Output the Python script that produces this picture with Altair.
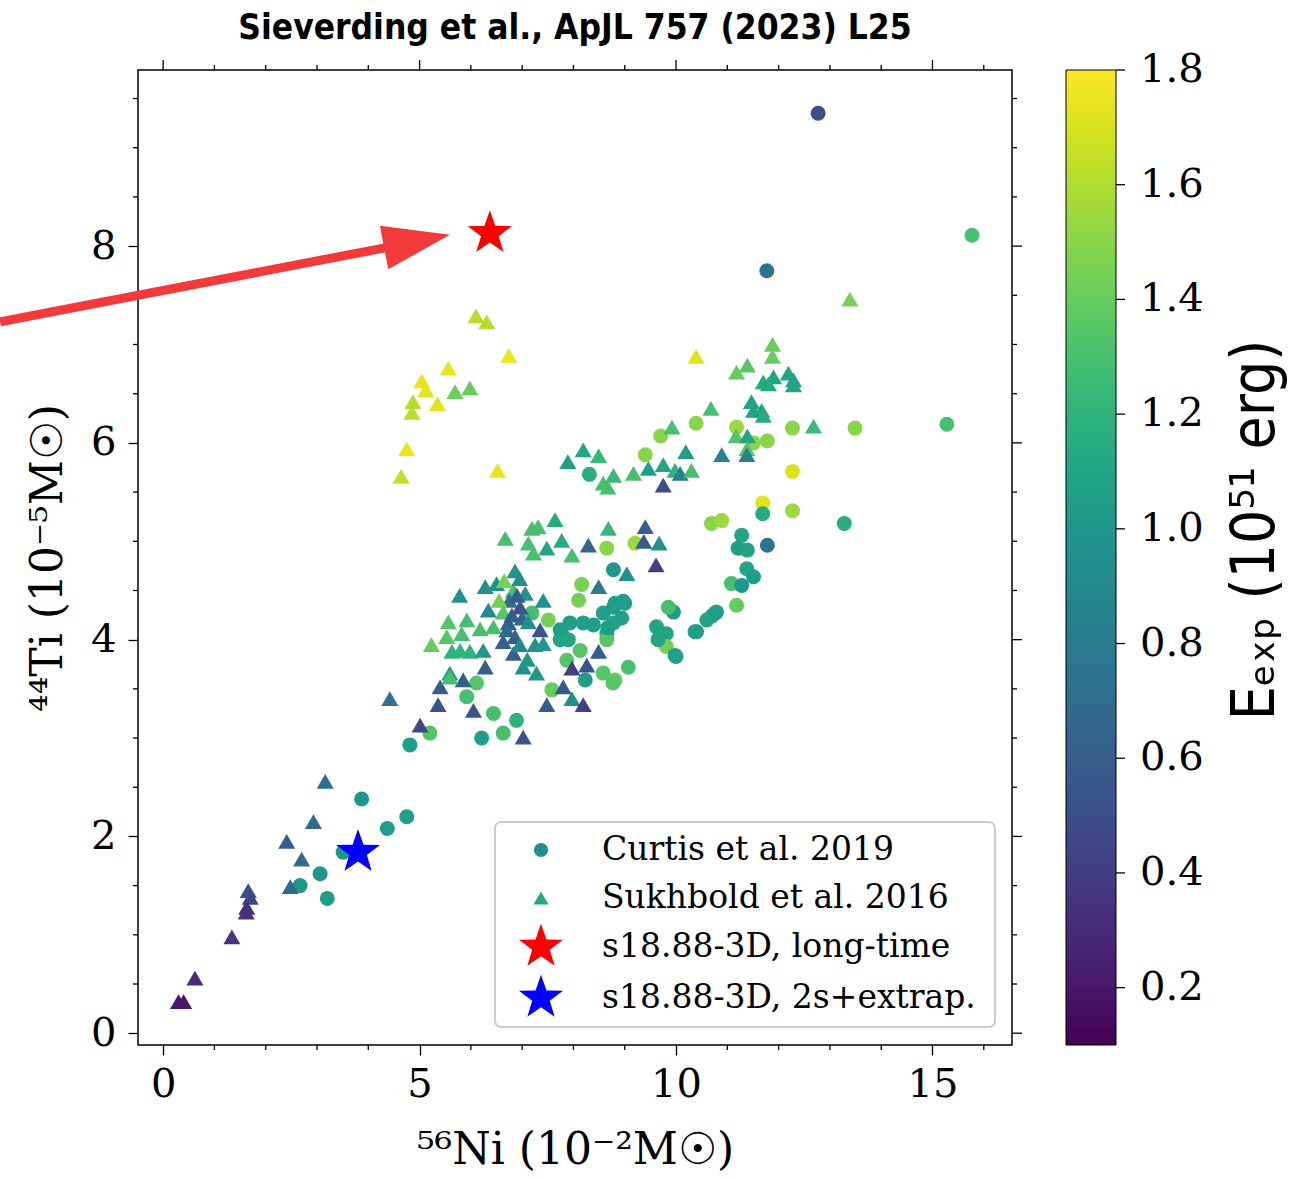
import math
import altair as alt
import pandas as pd

# ---------------- data ----------------
curtis_x = [12.77, 11.77, 15.77, 15.28, 13.49, 13.28, 12.27, 12.27, 11.69, 11.69,
            12.27, 11.78, 11.28, 11.21, 11.39, 11.38, 11.51, 11.08, 11.28, 11.18,
            10.79, 10.70, 10.60, 10.40, 10.69, 10.89, 11.51, 11.78, 11.18, 10.39,
            9.70, 9.40, 8.31, 8.65, 9.20, 8.78, 8.16, 8.10, 7.51, 7.19,
            7.77, 7.93, 8.19, 8.39, 8.58, 8.78, 8.97, 8.78, 8.65, 8.65,
            7.74, 9.62, 9.81, 9.95, 9.85, 9.81, 9.98, 10.37, 8.13, 7.87,
            8.58, 8.81, 9.07, 8.23, 6.11, 5.92, 5.20, 4.81, 6.44, 6.21,
            6.63, 6.89, 7.58, 3.87, 4.75, 4.37, 3.51, 3.06, 2.67, 3.20,
            8.81, 9.00, 8.94, 8.67, 9.65, 10.00, 10.76, 7.90, 7.74, 8.77]
curtis_y = [9.35, 7.75, 8.11, 6.19, 6.15, 5.18, 6.15, 5.71, 5.39, 5.28,
            5.31, 4.96, 5.06, 4.93, 4.91, 4.72, 4.64, 4.57, 4.55, 4.35,
            4.28, 4.24, 4.20, 4.08, 5.18, 5.21, 6.00, 6.02, 6.16, 6.20,
            6.07, 5.88, 5.68, 4.93, 4.98, 4.71, 4.56, 4.40, 4.20, 4.27,
            4.06, 4.17, 4.17, 4.15, 4.27, 4.33, 4.39, 4.17, 4.06, 4.00,
            4.00, 4.13, 4.06, 4.28, 4.33, 3.93, 3.84, 4.08, 3.89, 3.79,
            3.66, 3.59, 3.72, 3.59, 3.56, 3.42, 3.05, 2.93, 3.25, 3.00,
            3.05, 3.18, 3.49, 2.38, 2.20, 2.08, 1.84, 1.62, 1.50, 1.37,
            4.37, 4.37, 4.22, 4.12, 4.00, 3.83, 4.27, 4.00, 4.10, 3.56]
curtis_e = [0.50, 0.75, 1.30, 1.30, 1.50, 1.15, 1.50, 1.70, 1.72, 1.15,
            1.55, 0.75, 1.10, 1.05, 1.10, 1.10, 1.05, 1.30, 1.00, 1.40,
            1.10, 1.10, 1.10, 1.05, 1.50, 1.55, 1.50, 1.50, 1.55, 1.50,
            1.50, 1.50, 1.15, 1.50, 1.55, 1.00, 1.45, 1.45, 1.45, 1.30,
            1.05, 1.05, 1.05, 1.05, 1.05, 1.05, 1.05, 1.10, 1.10, 1.35,
            1.10, 1.10, 1.10, 1.05, 1.30, 1.45, 1.10, 1.05, 1.35, 1.35,
            1.35, 1.40, 1.30, 1.05, 1.35, 1.30, 1.35, 1.05, 1.30, 1.05,
            1.30, 1.20, 1.40, 1.00, 1.05, 1.05, 1.00, 1.00, 1.00, 1.05,
            1.05, 1.05, 1.05, 1.05, 1.10, 1.05, 1.05, 1.10, 1.05, 1.35]

sukh_x = [6.10, 6.31, 6.74, 5.56, 5.04, 5.12, 4.87, 4.85, 5.35, 5.69,
          5.98, 4.75, 4.64, 6.52, 13.39, 10.39, 11.88, 11.88, 11.18, 11.39,
          11.70, 11.90, 12.19, 12.29, 11.80, 12.29, 11.47, 11.67, 11.51, 11.70,
          10.68, 9.92, 12.68, 11.17, 11.39, 11.38, 10.89, 11.38, 10.19, 9.46,
          9.75, 9.98, 10.08, 10.30, 9.75, 7.89, 8.19, 8.49, 8.58, 8.78,
          8.67, 9.17, 7.64, 7.19, 7.31, 6.67, 7.12, 7.22, 7.48, 7.77,
          7.97, 8.29, 8.68, 9.40, 9.37, 9.67, 9.61, 9.04, 8.49, 6.83,
          7.06, 6.96, 6.50, 6.28, 5.78, 6.34, 6.63, 7.41, 7.35, 7.41,
          6.73, 6.86, 6.63, 5.56, 5.92, 6.18, 6.44, 5.53, 5.82, 5.23,
          5.63, 5.79, 5.98, 6.24, 6.83, 7.02, 7.28, 6.28, 5.59, 5.85,
          5.40, 5.36, 6.05, 4.42, 5.01, 7.02, 7.48, 7.80, 7.97, 8.19,
          7.97, 8.26, 8.49, 6.86, 6.95, 6.75, 6.90, 6.80, 7.00, 6.70,
          6.95, 7.12, 6.55, 6.65, 7.10, 7.25, 5.59, 3.16, 2.93, 2.41,
          2.70, 2.48, 1.66, 1.70, 1.63, 1.62, 1.34, 0.62, 0.30, 0.40]
sukh_y = [7.29, 7.23, 6.89, 6.76, 6.63, 6.54, 6.42, 6.31, 6.40, 6.52,
          6.56, 5.94, 5.66, 5.72, 7.46, 6.88, 7.00, 6.88, 6.72, 6.79,
          6.62, 6.67, 6.71, 6.64, 6.60, 6.59, 6.42, 6.33, 6.33, 6.28,
          6.35, 6.16, 6.17, 6.07, 6.07, 5.94, 5.88, 5.88, 5.91, 5.74,
          5.78, 5.72, 5.69, 5.72, 5.57, 5.81, 5.93, 5.87, 5.59, 5.67,
          5.55, 5.69, 5.22, 5.13, 5.15, 5.03, 4.98, 4.88, 4.93, 5.01,
          4.86, 4.96, 5.13, 5.15, 5.00, 4.98, 4.76, 4.67, 4.54, 4.50,
          4.47, 4.33, 4.57, 4.54, 4.45, 4.30, 4.28, 4.40, 4.10, 3.96,
          4.17, 4.03, 3.98, 4.18, 4.20, 4.11, 4.13, 4.03, 4.06, 3.95,
          3.88, 3.89, 3.88, 3.89, 3.86, 3.72, 3.66, 3.72, 3.66, 3.59,
          3.52, 3.34, 3.28, 3.40, 3.13, 3.01, 3.34, 3.52, 3.40, 3.34,
          3.71, 3.74, 3.88, 4.70, 4.62, 4.40, 4.45, 4.25, 4.22, 4.10,
          3.95, 4.18, 4.40, 4.60, 3.80, 3.95, 3.62, 2.56, 2.15, 1.95,
          1.77, 1.49, 1.45, 1.38, 1.28, 1.23, 0.98, 0.56, 0.32, 0.32]
sukh_e = [1.62, 1.62, 1.75, 1.75, 1.75, 1.72, 1.62, 1.62, 1.72, 1.42,
          1.40, 1.75, 1.65, 1.75, 1.45, 1.72, 1.40, 1.40, 1.40, 1.35,
          1.15, 1.10, 1.10, 1.10, 1.15, 1.10, 1.10, 1.10, 1.10, 1.15,
          1.30, 1.30, 1.25, 1.35, 1.10, 1.35, 0.85, 0.85, 1.05, 1.05,
          1.10, 1.20, 0.85, 1.30, 0.50, 1.05, 1.10, 1.25, 1.30, 1.25,
          1.30, 1.30, 1.15, 1.30, 1.30, 1.30, 1.30, 1.30, 1.10, 1.15,
          1.30, 0.65, 1.25, 0.60, 0.60, 0.95, 0.40, 0.95, 0.80, 1.30,
          0.95, 0.55, 0.95, 0.95, 0.95, 0.90, 1.35, 0.95, 0.55, 1.00,
          0.60, 0.60, 0.60, 1.35, 1.30, 1.30, 1.30, 1.35, 1.30, 1.40,
          1.20, 1.20, 1.20, 1.00, 0.60, 0.95, 1.00, 0.60, 1.05, 0.60,
          0.60, 0.55, 0.55, 0.75, 0.45, 0.55, 0.60, 0.55, 0.95, 0.40,
          0.40, 0.55, 0.60, 1.00, 0.95, 0.70, 0.60, 0.60, 0.65, 0.70,
          0.90, 0.95, 1.45, 1.45, 1.00, 1.00, 1.30, 0.70, 0.70, 0.60,
          0.70, 0.70, 0.50, 0.45, 0.35, 0.35, 0.35, 0.30, 0.20, 0.20]

series_names = ["Curtis et al. 2019", "Sukhbold et al. 2016",
                "s18.88-3D, long-time", "s18.88-3D, 2s+extrap."]
star_x = [6.37, 3.80]
star_y = [8.13, 1.84]

# arrow annotation: shaft start (left, outside frame), shaft end, head centre
arrow_x = [-3.18, 4.40]
arrow_y = [7.23, 7.99]
head_x = [4.95]
head_y = [8.05]

E_MIN, E_MAX = 0.1, 1.8
cbar_values = [0.2, 0.4, 0.6, 0.8, 1.0, 1.2, 1.4, 1.6, 1.8]
x_major = [0, 5, 10, 15]
x_minor = [i for i in range(0, 17) if i % 5 != 0]
y_major = [0, 2, 4, 6, 8]
y_minor = [i * 0.5 for i in range(0, 20) if (i * 0.5) % 2 != 0]

# ---------------- layout / style constants ----------------
W, H = 874, 975
XDOM = [-0.49, 16.55]
YDOM = [-0.12, 9.79]
SERIF = "DejaVu Serif"
COND = "DejaVu Sans Condensed, Roboto Condensed, Liberation Sans Narrow, Roboto, sans-serif"
CB_X, CB_W = 928, 50            # colour bar left edge (plot coords) and thickness

# five-pointed star marker as an SVG path in unit coordinates
_pts = []
for k in range(10):
    r = 1.0 if k % 2 == 0 else 0.40
    a = math.radians(-90 + 36 * k)
    _pts.append(f"{r * math.cos(a):.4f},{r * math.sin(a):.4f}")
STAR = "M" + "L".join(_pts) + "Z"
STAR_SIZE = 2150

pts = pd.concat([
    pd.DataFrame({"x": curtis_x, "y": curtis_y, "E": curtis_e, "series": series_names[0]}),
    pd.DataFrame({"x": sukh_x, "y": sukh_y, "E": sukh_e, "series": series_names[1]}),
], ignore_index=True)

xs = alt.Scale(domain=XDOM, nice=False, zero=False)
ys = alt.Scale(domain=YDOM, nice=False, zero=False)

axis_common = dict(domain=False, tickColor="black", tickWidth=1.3, tickSize=10,
                   grid=False, labelFont=SERIF, labelFontSize=40, labelColor="black",
                   titleFont=SERIF, titleFontSize=44, titleColor="black", format="d",
                   titleFontWeight="normal", labelFlush=False, labelOverlap=False)

x_bottom = alt.Axis(orient="bottom", values=x_major, labelPadding=9, titlePadding=24,
                    title="⁵⁶Ni (10⁻²M☉)", **axis_common)
y_left = alt.Axis(orient="left", values=y_major, labelPadding=12, titlePadding=20,
                  title="⁴⁴Ti (10⁻⁵M☉)", **axis_common)

points = alt.Chart(pts).mark_point(filled=True, opacity=1, strokeWidth=0).encode(
    x=alt.X("x:Q", scale=xs, axis=x_bottom),
    y=alt.Y("y:Q", scale=ys, axis=y_left),
    color=alt.Color("E:Q", scale=alt.Scale(scheme="viridis", domain=[E_MIN, E_MAX]),
                    legend=alt.Legend(title=None, orient="none", legendX=CB_X, legendY=0,
                                      direction="vertical", gradientLength=H,
                                      gradientThickness=CB_W, gradientStrokeColor="black",
                                      gradientStrokeWidth=1, values=cbar_values[:-1],
                                      format=".1f", labelFont=SERIF, labelFontSize=40,
                                      labelColor="black", labelOffset=24, labelOverlap=False,
                                      labelBaseline="middle", padding=0)),
    shape=alt.Shape("series:N", scale=alt.Scale(domain=series_names[:2],
                                                 range=["circle", "triangle-up"]), legend=None),
    size=alt.condition(alt.datum.series == series_names[0], alt.value(225), alt.value(290)),
)

# ---------------- minor ticks and mirrored ticks (drawn through the scales) ----------------
def xticks(vals, length, top):
    y0, y1 = (0, -length) if top else (H, H + length)
    return alt.Chart(pd.DataFrame({"t": vals})).mark_rule(color="black", strokeWidth=1.3).encode(
        x=alt.X("t:Q", scale=xs), y=alt.value(y0), y2=alt.value(y1))

def yticks(vals, length, right):
    x0, x1 = (W, W + length) if right else (0, -length)
    return alt.Chart(pd.DataFrame({"t": vals})).mark_rule(color="black", strokeWidth=1.3).encode(
        y=alt.Y("t:Q", scale=ys), x=alt.value(x0), x2=alt.value(x1))

tick_layers = [
    xticks(x_minor, 5, False), xticks(x_major, 10, True), xticks(x_minor, 5, True),
    yticks(y_minor, 5, False), yticks(y_major, 10, True), yticks(y_minor, 5, True),
]

# colour-bar ticks and top label, positioned from the colour values
cb = pd.DataFrame({"v": cbar_values})
cb["py"] = (E_MAX - cb["v"]) / (E_MAX - E_MIN) * H
cb["lab"] = cb["v"].map(lambda v: f"{v:.1f}")
cb_ticks = alt.Chart(cb).mark_rule(color="black", strokeWidth=1.3).encode(
    y=alt.Y("py:Q", scale=None), x=alt.value(CB_X + CB_W), x2=alt.value(CB_X + CB_W + 9))
cb_top = alt.Chart(cb[cb["v"] == E_MAX]).mark_text(
    align="left", baseline="middle", font=SERIF, fontSize=40, color="black").encode(
    y=alt.Y("py:Q", scale=None), x=alt.value(CB_X + CB_W + 24), text="lab:N")

stars = pd.DataFrame({"x": star_x, "y": star_y, "series": series_names[2:]})
red_star = alt.Chart(stars.iloc[[0]]).mark_point(
    shape=STAR, filled=True, color="#ff0000", size=STAR_SIZE, opacity=1, strokeWidth=0).encode(
    x=alt.X("x:Q", scale=xs), y=alt.Y("y:Q", scale=ys))
blue_star = alt.Chart(stars.iloc[[1]]).mark_point(
    shape=STAR, filled=True, color="#0000ff", size=STAR_SIZE, opacity=1, strokeWidth=0).encode(
    x=alt.X("x:Q", scale=xs), y=alt.Y("y:Q", scale=ys))

shaft = alt.Chart(pd.DataFrame({"x": arrow_x, "y": arrow_y})).mark_line(
    color="#f23a3a", strokeWidth=9).encode(
    x=alt.X("x:Q", scale=xs), y=alt.Y("y:Q", scale=ys))
head = alt.Chart(pd.DataFrame({"x": head_x, "y": head_y})).mark_point(
    shape="M1,0L-1,-0.66L-1,0.66Z", filled=True, color="#f23a3a", size=4500, angle=349,
    opacity=1, strokeWidth=0).encode(
    x=alt.X("x:Q", scale=xs), y=alt.Y("y:Q", scale=ys))

# ---------------- manual in-plot legend ----------------
one = pd.DataFrame({"a": [0]})
leg_box = alt.Chart(one).mark_rect(fill="white", stroke="#cccccc", strokeWidth=2,
                                   cornerRadius=6).encode(
    x=alt.value(357), x2=alt.value(857), y=alt.value(752), y2=alt.value(957))
leg_rows = [780, 828, 877, 928]
leg_sym = []
for name, yy, shp, col, sz in zip(series_names, leg_rows,
                                  ["circle", "triangle-up", STAR, STAR],
                                  ["#1f8f8b", "#25ab82", "#ff0000", "#0000ff"],
                                  [200, 230, STAR_SIZE, STAR_SIZE]):
    leg_sym.append(alt.Chart(one).mark_point(shape=shp, filled=True, color=col, size=sz,
                                             opacity=1, strokeWidth=0).encode(
        x=alt.value(403), y=alt.value(yy)))
leg_txt = [alt.Chart(one).mark_text(align="left", baseline="middle", font=SERIF, fontSize=33,
                                    color="black", text=name).encode(
    x=alt.value(464), y=alt.value(yy)) for name, yy in zip(series_names, leg_rows)]

cbar_title = alt.Chart(one).mark_text(
    angle=270, align="center", baseline="middle", font=COND, fontSize=60, color="black",
    text="Eₑₓₚ (10⁵¹ erg)").encode(x=alt.value(1118), y=alt.value(460))

chart = alt.layer(points, *tick_layers, cb_ticks, cb_top, red_star, blue_star, shaft, head,
                  leg_box, *leg_sym, *leg_txt, cbar_title).properties(
    width=W, height=H,
    autosize=alt.AutoSizeParams(type="none"),
    padding={"left": 138, "top": 70, "right": 279, "bottom": 133},
    title=alt.TitleParams("Sieverding et al., ApJL 757 (2023) L25", font=COND, fontSize=35,
                          fontWeight="bold", color="black", anchor="middle", offset=4),
).configure(background="white").configure_view(stroke="black", strokeWidth=1.5)

chart.save("out.html", embed_options={"renderer": "svg", "actions": False})
